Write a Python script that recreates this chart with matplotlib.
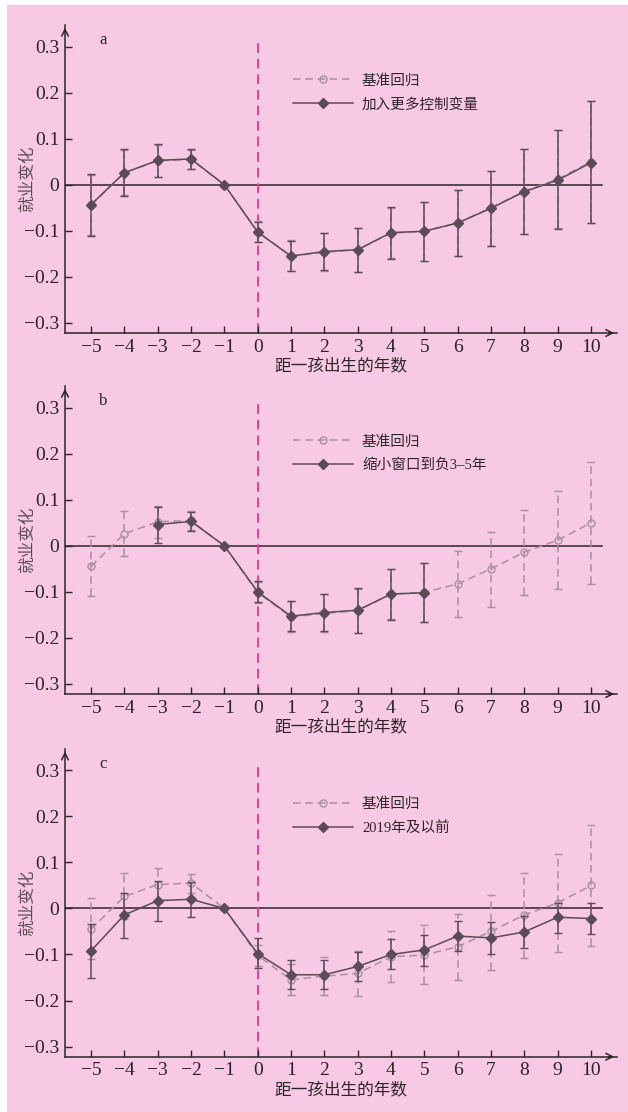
import numpy as np
import matplotlib
matplotlib.use("Agg")
from matplotlib import pyplot as plt
from matplotlib.patches import Rectangle

plt.rcParams['font.family'] = ['Liberation Serif', 'Noto Sans CJK SC']
plt.rcParams['axes.unicode_minus'] = True

# years relative to first birth
years = np.arange(-5, 11)

# baseline regression (基准回归): estimate, lower and upper CI bound
base = [-0.045, 0.026, 0.052, 0.055, 0.0, -0.102, -0.155, -0.147, -0.141, -0.105,
        -0.101, -0.083, -0.050, -0.014, 0.012, 0.050]
base_lo = [-0.110, -0.023, 0.017, 0.034, np.nan, -0.125, -0.187, -0.187, -0.190, -0.160,
           -0.165, -0.155, -0.133, -0.108, -0.094, -0.082]
base_hi = [0.022, 0.076, 0.087, 0.075, np.nan, -0.079, -0.121, -0.105, -0.093, -0.050,
           -0.037, -0.012, 0.030, 0.077, 0.119, 0.181]

# panel a: more controls (加入更多控制变量)
ctrl = [-0.043, 0.026, 0.053, 0.056, 0.0, -0.103, -0.155, -0.145, -0.141, -0.104,
        -0.101, -0.083, -0.051, -0.015, 0.010, 0.048]
ctrl_lo = [-0.111, -0.024, 0.017, 0.035, np.nan, -0.125, -0.187, -0.186, -0.189, -0.161,
           -0.165, -0.155, -0.133, -0.108, -0.097, -0.084]
ctrl_hi = [0.023, 0.077, 0.088, 0.077, np.nan, -0.080, -0.122, -0.104, -0.093, -0.049,
           -0.038, -0.012, 0.029, 0.078, 0.119, 0.182]

# panel b: narrower window (缩小窗口到负3-5年), years -3..5
win_years = np.arange(-3, 6)
win = [0.046, 0.053, 0.0, -0.100, -0.153, -0.145, -0.140, -0.105, -0.102]
win_lo = [0.007, 0.031, np.nan, -0.123, -0.185, -0.185, -0.189, -0.161, -0.165]
win_hi = [0.085, 0.074, np.nan, -0.077, -0.119, -0.105, -0.092, -0.050, -0.037]

# panel c: 2019 and before (2019年及以前)
early = [-0.092, -0.014, 0.017, 0.020, 0.0, -0.098, -0.144, -0.144, -0.126, -0.100,
         -0.090, -0.060, -0.064, -0.051, -0.019, -0.022]
early_lo = [-0.150, -0.065, -0.027, -0.018, np.nan, -0.130, -0.176, -0.176, -0.158, -0.132,
            -0.124, -0.093, -0.098, -0.085, -0.054, -0.055]
early_hi = [-0.033, 0.034, 0.059, 0.058, np.nan, -0.065, -0.112, -0.112, -0.094, -0.067,
            -0.058, -0.027, -0.030, -0.017, 0.012, 0.012]

yticks = [-0.3, -0.2, -0.1, 0, 0.1, 0.2, 0.3]
ytick_labels = ['\u22120.3', '\u22120.2', '\u22120.1', '0', '0.1', '0.2', '0.3']
xtick_labels = [str(v).replace('-', '\u2212') for v in years]

PINK = '#f7c9e4'
DARK = '#5b4b56'
GREY = '#a7909e'
AXC = '#2e2529'
MAGENTA = '#ea3d9c'

fig = plt.figure(figsize=(6.28, 11.12), dpi=100)
fig.patch.set_facecolor('white')
fig.patches.append(Rectangle((7 / 628, 0), 1, 1 - 5 / 1112, transform=fig.transFigure,
                             facecolor=PINK, edgecolor='none', zorder=-10))

XLIM = (-5.78, 10.78)
YLIM = (-0.322, 0.347)


def errline(ax, x, y, lo, hi, color, marker, ls, mfc, ms, z):
    y = np.asarray(y)
    err = np.array([y - np.asarray(lo), np.asarray(hi) - y])
    line, caps, bars = ax.errorbar(x, y, yerr=err, color=color, ecolor=color, lw=1.1,
                                   elinewidth=1.1, capsize=2.8, capthick=1.1, marker=marker,
                                   ms=ms, mfc=mfc, mec=color, mew=1.0, zorder=z)
    if ls == '--':
        line.set_dashes((5, 3))
        for b in bars:
            b.set_linestyle((0, (5, 3)))
    return line


def panel(ax, letter, label, xs, ys, lo, hi):
    ax.set_facecolor('none')
    ax.set_xlim(*XLIM)
    ax.set_ylim(*YLIM)
    for s in ['top', 'right']:
        ax.spines[s].set_visible(False)
    for s in ['left', 'bottom']:
        ax.spines[s].set_color(AXC)
        ax.spines[s].set_linewidth(1.1)
    ax.annotate('', xy=(0, 1.0), xytext=(0, 0.97), xycoords='axes fraction',
                arrowprops=dict(arrowstyle='->', color=AXC, lw=1.1, mutation_scale=12))
    ax.annotate('', xy=(1.0, 0), xytext=(0.98, 0), xycoords='axes fraction',
                arrowprops=dict(arrowstyle='->', color=AXC, lw=1.1, mutation_scale=12))
    ax.set_yticks(yticks)
    ax.set_yticklabels(ytick_labels)
    ax.set_xticks(years)
    ax.set_xticklabels(xtick_labels)
    ax.tick_params(direction='in', length=5, width=1, color=AXC, labelsize=14,
                   labelcolor='#2b2328', pad=4)
    ax.plot([XLIM[0], 10.32], [0, 0], color=AXC, lw=1.1, zorder=1)
    ax.plot([0, 0], [YLIM[0], 0.318], color=MAGENTA, lw=1.4, ls=(0, (5, 3)), zorder=1)
    ax.text(-4.75, 0.314, letter, fontsize=12, color=AXC, va='center', ha='left')
    ax.set_ylabel('就业变化', fontsize=12, color='#5a5058')
    ax.yaxis.set_label_coords(-0.052, 0.5)
    ax.set_xlabel('距一孩出生的年数', fontsize=12, color=AXC, labelpad=2)
    h1 = errline(ax, years, base, base_lo, base_hi, GREY, 'o', '--', 'none', 5, 3)
    h2 = errline(ax, xs, ys, lo, hi, DARK, 'D', '-', DARK, 5, 4)
    ax.legend(handles=[h1, h2], labels=['基准回归', label], loc='upper left',
              bbox_to_anchor=(0.39, 0.885), frameon=False, fontsize=10.5,
              handlelength=4.1, handletextpad=0.6, labelspacing=0.7, labelcolor=AXC)


left, width, height = 65 / 628, (617 - 65) / 628, 308 / 1112
axa = fig.add_axes([left, 1 - 333 / 1112, width, height])
axb = fig.add_axes([left, 1 - 694 / 1112, width, height])
axc = fig.add_axes([left, 1 - 1056.7 / 1112, width, height])

panel(axa, 'a', '加入更多控制变量', years, ctrl, ctrl_lo, ctrl_hi)
panel(axb, 'b', '缩小窗口到负3–5年', win_years, win, win_lo, win_hi)
panel(axc, 'c', '2019年及以前', years, early, early_lo, early_hi)

fig.savefig('out.png', dpi=100, facecolor=fig.get_facecolor())
